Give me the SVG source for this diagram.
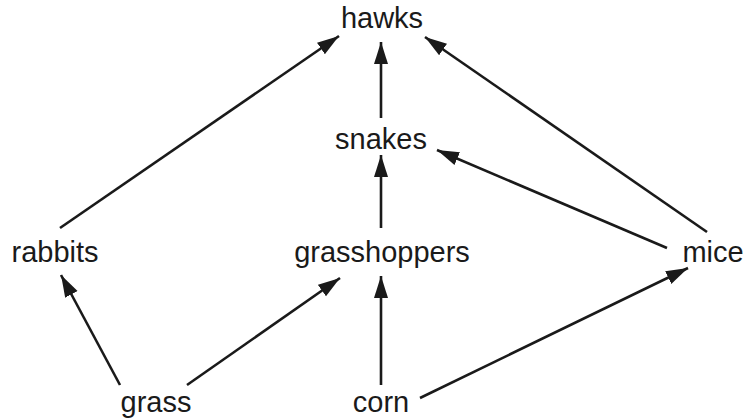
<svg xmlns="http://www.w3.org/2000/svg" width="745" height="420" viewBox="0 0 745 420">
  <style>
    .label { font-family: "Liberation Sans", Arial, sans-serif; font-size: 29px; fill: #1a1a1a; text-anchor: middle; }
    .edge { stroke: #1a1a1a; stroke-width: 2.6; fill: none; marker-end: url(#arrow); }
  </style>
  <defs>
    <marker id="arrow" markerUnits="userSpaceOnUse" markerWidth="24" markerHeight="16" refX="22" refY="7" orient="auto" viewBox="0 0 24 14">
      <path d="M0,0 L22,7 L0,14 z" fill="#1a1a1a"/>
    </marker>
  </defs>

  <!-- food-web links: each arrow points from food to eater -->
  <g id="connectors">
    <line class="edge" x1="60" y1="228" x2="339" y2="36"/>
    <line class="edge" x1="381" y1="118" x2="381" y2="42"/>
    <line class="edge" x1="707" y1="232" x2="425" y2="37"/>
    <line class="edge" x1="381" y1="228" x2="381" y2="155"/>
    <line class="edge" x1="667" y1="248" x2="437" y2="150"/>
    <line class="edge" x1="120" y1="385" x2="61" y2="275"/>
    <line class="edge" x1="187" y1="385" x2="340" y2="278"/>
    <line class="edge" x1="381" y1="385" x2="381" y2="276"/>
    <line class="edge" x1="420" y1="398" x2="688" y2="268"/>
  </g>

  <g id="hawks"><text class="label" x="382" y="28">hawks</text></g>
  <g id="snakes"><text class="label" x="381" y="149">snakes</text></g>
  <g id="rabbits"><text class="label" x="55" y="262">rabbits</text></g>
  <g id="grasshoppers"><text class="label" x="382" y="262">grasshoppers</text></g>
  <g id="mice"><text class="label" x="713" y="262">mice</text></g>
  <g id="grass"><text class="label" x="156" y="412">grass</text></g>
  <g id="corn"><text class="label" x="381" y="412">corn</text></g>
</svg>
